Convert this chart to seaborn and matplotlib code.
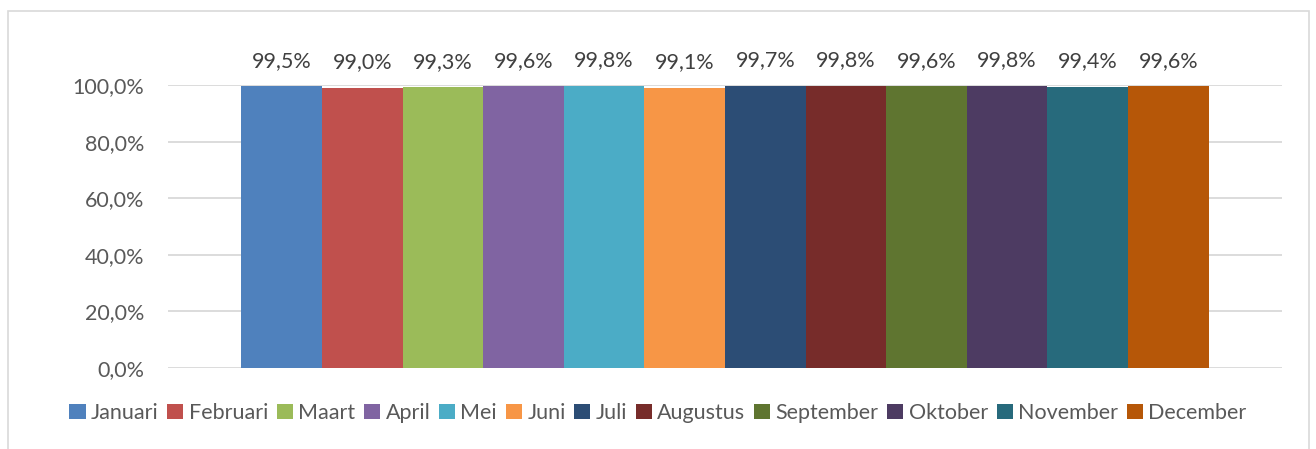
import pandas as pd
import seaborn as sns
import matplotlib.pyplot as plt
from matplotlib.patches import Rectangle

maanden = ['Januari', 'Februari', 'Maart', 'April', 'Mei', 'Juni', 'Juli',
           'Augustus', 'September', 'Oktober', 'November', 'December']
waarden = [0.995, 0.990, 0.993, 0.996, 0.998, 0.991, 0.997, 0.998, 0.996, 0.998, 0.994, 0.996]
kleuren = ['#4F81BD', '#C0504D', '#9BBB59', '#8064A2', '#4BACC6', '#F79646',
           '#2C4D75', '#772C2A', '#5F7530', '#4D3B62', '#276A7C', '#B65708']
yticks = [0.0, 0.2, 0.4, 0.6, 0.8, 1.0]

df = pd.DataFrame({'cat': ['x'] * len(maanden), 'maand': maanden, 'waarde': waarden})

sns.set_style('white')
plt.rcParams['font.family'] = ['Lato', 'DejaVu Sans']
tekst = '#595959'
fs = 15.5

fig = plt.figure(figsize=(13.16, 4.49), dpi=100)
W, H = 1316, 449
ax = fig.add_axes([168 / W, 1 - 368 / H, (1282 - 168) / W, (368 - 85) / H])

sns.barplot(data=df, x='cat', y='waarde', hue='maand', palette=kleuren,
            width=967 / 1114, dodge=True, saturation=1, ax=ax, legend=True)
for p in ax.patches:
    p.set_edgecolor('none')

ax.set_xlim(-0.5, 0.5)
ax.set_ylim(0, 1.0)
ax.set_yticks(yticks)
ax.set_yticklabels([f'{v * 100:.1f}%'.replace('.', ',') for v in yticks], color=tekst, fontsize=fs)
ax.tick_params(axis='y', length=0, pad=17)
ax.set_xticks([])
ax.set_xlabel('')
ax.set_ylabel('')
for s in ax.spines.values():
    s.set_visible(False)
ax.grid(axis='y', color='#d9d9d9', linewidth=1.3)
ax.set_axisbelow(True)

for cont in ax.containers:
    for bar in cont:
        h = bar.get_height()
        ax.annotate(f'{h * 100:.1f}%'.replace('.', ','),
                    (bar.get_x() + bar.get_width() / 2, h),
                    xytext=(0, 11), textcoords='offset points',
                    ha='center', va='bottom', color='#404040', fontsize=fs)

handles, labels = ax.get_legend_handles_labels()
ax.get_legend().remove()
fig.legend(handles, labels, loc='center', bbox_to_anchor=(0.5, 1 - 413 / H), ncol=12,
           frameon=False, handlelength=0.75, handleheight=0.75, handletextpad=0.25,
           columnspacing=0.4, fontsize=fs, labelcolor=tekst)

fig.patches.append(Rectangle((8 / W, -0.01), (1309 - 8) / W, 1 - 11 / H + 0.01,
                             transform=fig.transFigure, fill=False,
                             edgecolor='#d9d9d9', linewidth=1.2))

fig.savefig('out.png', dpi=100)
